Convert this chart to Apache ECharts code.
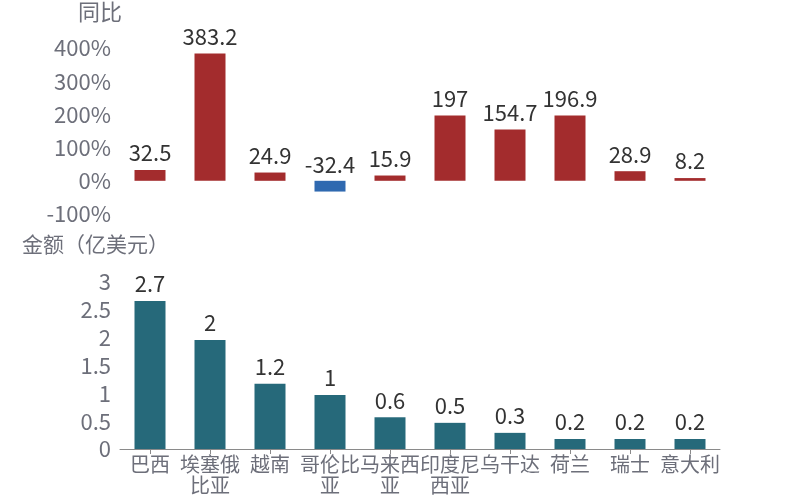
<!DOCTYPE html>
<html><head><meta charset="utf-8">
<script src="https://cdn.jsdelivr.net/npm/echarts@6/dist/echarts.min.js"></script>
<style>html,body{margin:0;padding:0;background:#fff}#c{width:800px;height:500px}</style>
</head><body><div id="c"></div>
<script>
var categories = ['巴西','埃塞俄比亚','越南','哥伦比亚','马来西亚','印度尼西亚','乌干达','荷兰','瑞士','意大利'];
var yoyValues = [32.5, 383.2, 24.9, -32.4, 15.9, 197, 154.7, 196.9, 28.9, 8.2];
var amountValues = [2.66, 1.96, 1.17, 0.97, 0.57, 0.47, 0.29, 0.18, 0.18, 0.18];
var yoyTicks = ['-100%','0%','100%','200%','300%','400%'];
var amountTicks = ['0','0.5','1','1.5','2','2.5','3'];

var FONT = '"Noto Sans CJK SC", "Noto Sans", sans-serif';
var RED = '#A32C2D', BLUE = '#2F69B0', TEAL = '#26697A';
var GREY = '#6d6f7a';

var chart = echarts.init(document.getElementById('c'));
chart.setOption({
  animation: false,
  textStyle: {fontFamily: FONT},
  graphic: [
    {type:'text', left: 78, top: 1, style:{text:'同比', fontSize: 22, fill: GREY, fontFamily: FONT}},
    {type:'text', left: 22, top: 234, style:{text:'金额（亿美元）', fontSize: 21, fill: GREY, fontFamily: FONT}}
  ],
  grid: [
    {left: 120, width: 600, top: 48, height: 166},
    {left: 120, width: 600, top: 282, height: 167}
  ],
  xAxis: [
    {type:'category', gridIndex:0, data: categories, axisLine:{show:false}, axisTick:{show:false}, axisLabel:{show:false}},
    {type:'category', gridIndex:1, data: categories,
     axisLine:{show:true, lineStyle:{color:'#8a8a8a', width:1}},
     axisTick:{show:true, alignWithLabel:true, length:5, lineStyle:{color:'#8a8a8a'}},
     axisLabel:{color: GREY, fontSize: 20, fontFamily: FONT, interval:0, margin: 5, lineHeight: 21,
       formatter: function(v){ return v.length > 3 ? v.slice(0,3) + '\n' + v.slice(3) : v; }}}
  ],
  yAxis: [
    {type:'value', gridIndex:0, min:-100, max:400, interval:100,
     axisLine:{show:false}, axisTick:{show:false}, splitLine:{show:false},
     axisLabel:{color: GREY, fontSize: 22, fontFamily: FONT, margin: 9,
       formatter: function(v){ return yoyTicks[Math.round((v+100)/100)]; }}},
    {type:'value', gridIndex:1, min:0, max:3, interval:0.5,
     axisLine:{show:false}, axisTick:{show:false}, splitLine:{show:false},
     axisLabel:{color: GREY, fontSize: 22, fontFamily: FONT, margin: 9,
       formatter: function(v){ return amountTicks[Math.round(v/0.5)]; }}}
  ],
  series: [
    {type:'bar', xAxisIndex:0, yAxisIndex:0, barWidth: 31,
     data: yoyValues.map(function(v){
       return {value: v, itemStyle:{color: v < 0 ? BLUE : RED},
         label: v < 0 ? {position:'insideTop', offset:[0, -33]} : undefined};
     }),
     label:{show:true, position:'top', distance: 6, color:'#333', fontSize: 22, fontFamily: FONT,
       formatter: function(p){ return String(p.value); }}},
    {type:'bar', xAxisIndex:1, yAxisIndex:1, barWidth: 31,
     data: amountValues, itemStyle:{color: TEAL},
     label:{show:true, position:'top', distance: 6, color:'#333', fontSize: 22, fontFamily: FONT,
       formatter: function(p){ return String(parseFloat(p.value.toFixed(1))); }}}
  ]
});
</script></body></html>
